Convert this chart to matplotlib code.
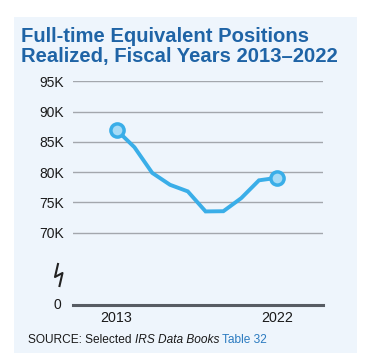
import matplotlib
matplotlib.use('Agg')
import matplotlib.pyplot as plt
from matplotlib.patches import Rectangle
from matplotlib.lines import Line2D

# Full-time equivalent positions realized, fiscal years 2013-2022
years = [2013, 2014, 2015, 2016, 2017, 2018, 2019, 2020, 2021, 2022]
fte = [86977, 84133, 79890, 77924, 76832, 73519, 73554, 75707, 78661, 79070]

tick_values = [70000, 75000, 80000, 85000, 90000, 95000]
tick_labels = ['70K', '75K', '80K', '85K', '90K', '95K']
year_labels = ['2013', '2022']

# the axis is broken below 70K: zero is drawn where 58K would sit
ZERO_POS = 58000

TITLE_BLUE = '#1f64a6'
LINE_BLUE = '#3aaee8'
FILL_BLUE = '#a6dbf6'
PANEL = '#eef5fc'
GRID = '#a3a7ad'
ZERO_LINE = '#575c63'
TEXT = '#1a1a1a'

plt.rcParams['font.family'] = ['Liberation Sans', 'DejaVu Sans']

W, H = 379, 355
fig = plt.figure(figsize=(W / 100, H / 100), dpi=100)
fig.patch.set_facecolor('white')

# light panel behind everything
fig.add_artist(Rectangle((14 / W, 1 - 353 / H), (357 - 14) / W, (353 - 17) / H,
                         transform=fig.transFigure, facecolor=PANEL,
                         edgecolor='none', zorder=0))

ax = fig.add_axes([72.7 / W, 1 - 305.3 / H, (323 - 72.7) / W, 223.8 / H])
ax.set_facecolor('none')
ax.set_xlim(2010.53, 2024.6)
ax.set_ylim(ZERO_POS, 95000)
for s in ax.spines.values():
    s.set_visible(False)

ax.set_yticks(tick_values)
ax.set_yticklabels(tick_labels)
ax.tick_params(axis='y', length=0, pad=6.5, labelsize=10, labelcolor=TEXT)
ax.set_xticks([years[0], years[-1]])
ax.set_xticklabels(year_labels)
ax.tick_params(axis='x', length=0, pad=4, labelsize=10.3, labelcolor=TEXT)

for v in tick_values:
    ax.axhline(v, color=GRID, linewidth=1.0, zorder=1)
ax.axhline(ZERO_POS, color=ZERO_LINE, linewidth=2.2, zorder=1, clip_on=False)
ax.text(-0.047, ZERO_POS, '0', transform=ax.get_yaxis_transform(),
        ha='right', va='center', fontsize=10, color=TEXT)

ax.plot(years, fte, color=LINE_BLUE, linewidth=2.8, solid_joinstyle='miter',
        zorder=3, clip_on=False)
ax.plot([years[0], years[-1]], [fte[0], fte[-1]], linestyle='none', marker='o',
        markersize=9.5, markerfacecolor=FILL_BLUE, markeredgecolor=LINE_BLUE,
        markeredgewidth=2.5, zorder=4, clip_on=False)

# axis break symbol
bx = [58, 55, 62.5, 59.5]
by = [264, 277, 273, 286]
fig.add_artist(Line2D([x / W for x in bx], [1 - y / H for y in by],
                      transform=fig.transFigure, color='#222222', linewidth=1.5))

# title
fig.text(21 / W, 1 - 41.5 / H, 'Full-time Equivalent Positions', fontsize=14.6,
         fontweight='bold', color=TITLE_BLUE, ha='left', va='baseline')
fig.text(21 / W, 1 - 62 / H, 'Realized, Fiscal Years 2013\u20132022', fontsize=14.6,
         fontweight='bold', color=TITLE_BLUE, ha='left', va='baseline')

# source line
t1 = fig.text(28 / W, 1 - 343 / H, 'SOURCE: Selected ', fontsize=8.6,
              color=TEXT, ha='left', va='baseline')
t2 = ax.annotate('IRS Data Books', xy=(1, 0), xycoords=t1, fontsize=8.6,
                 style='italic', color=TEXT, ha='left', va='bottom')
ax.annotate(' Table 32', xy=(1, 0), xycoords=t2, fontsize=8.6,
            color='#2b7bc0', ha='left', va='bottom')

fig.savefig('out.png', dpi=100)
